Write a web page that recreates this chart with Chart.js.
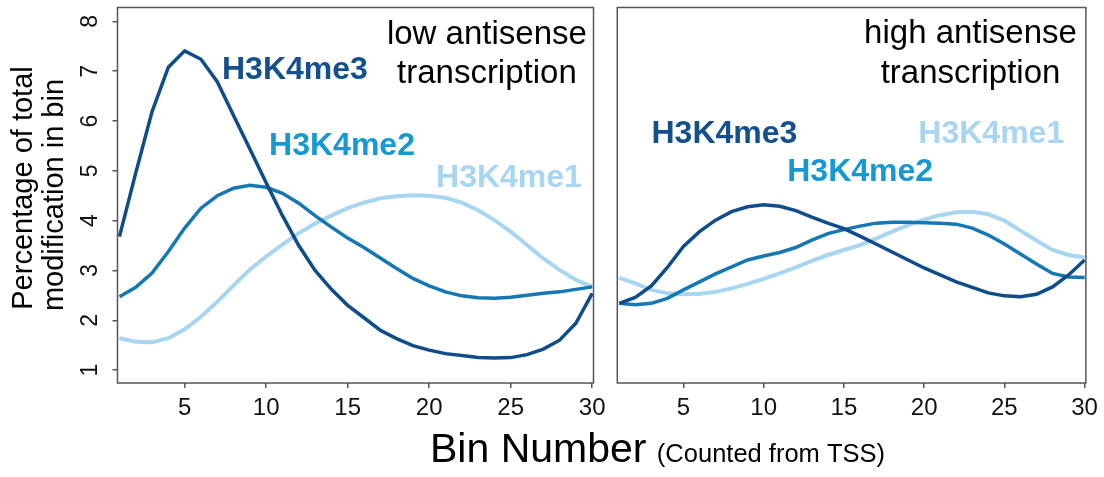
<!DOCTYPE html>
<html>
<head>
<meta charset="utf-8">
<script src="https://cdn.jsdelivr.net/npm/chart.js@4.4.1/dist/chart.umd.min.js"></script>
<style>
  html, body { margin: 0; padding: 0; background: #ffffff; }
  #wrap { position: relative; width: 1104px; height: 477px; overflow: hidden; background: #ffffff; }
  #low { position: absolute; left: 0; top: 0; width: 1104px; height: 477px; }
  #high { position: absolute; left: 604px; top: 0; width: 500px; height: 477px; }
</style>
</head>
<body>
<div id="wrap">
  <canvas id="low" width="1104" height="477"></canvas>
  <canvas id="high" width="500" height="477"></canvas>
</div>
<script>
// Bin positions counted from the TSS
const bins = [1, 2, 3, 4, 5, 6, 7, 8, 9, 10, 11, 12, 13, 14, 15,
              16, 17, 18, 19, 20, 21, 22, 23, 24, 25, 26, 27, 28, 29, 30];
const xTicks = [5, 10, 15, 20, 25, 30];
const yTicks = [1, 2, 3, 4, 5, 6, 7, 8];

// Percentage of total modification per bin, low antisense transcription
const lowMe3 = [3.68, 4.96, 6.19, 7.08, 7.41, 7.24, 6.79, 6.11, 5.44, 4.76,
                4.10, 3.50, 3.00, 2.62, 2.30, 2.05, 1.80, 1.63, 1.49, 1.40,
                1.33, 1.29, 1.25, 1.24, 1.25, 1.31, 1.42, 1.60, 1.94, 2.54];
const lowMe2 = [2.47, 2.66, 2.95, 3.38, 3.85, 4.25, 4.50, 4.65, 4.71, 4.67,
                4.55, 4.35, 4.10, 3.87, 3.65, 3.46, 3.25, 3.04, 2.84, 2.69,
                2.57, 2.49, 2.45, 2.44, 2.46, 2.50, 2.54, 2.57, 2.62, 2.67];
const lowMe1 = [1.64, 1.57, 1.56, 1.64, 1.82, 2.07, 2.37, 2.70, 3.02, 3.28,
                3.52, 3.75, 3.94, 4.10, 4.25, 4.36, 4.45, 4.49, 4.51, 4.50,
                4.46, 4.36, 4.21, 4.01, 3.78, 3.51, 3.24, 3.01, 2.81, 2.67];

// Percentage of total modification per bin, high antisense transcription
const highMe3 = [2.34, 2.46, 2.69, 3.06, 3.48, 3.78, 4.01, 4.18, 4.28, 4.32,
                 4.29, 4.20, 4.07, 3.95, 3.84, 3.69, 3.53, 3.37, 3.21, 3.05,
                 2.91, 2.77, 2.66, 2.55, 2.49, 2.47, 2.52, 2.67, 2.91, 3.21];
const highMe2 = [2.34, 2.31, 2.34, 2.44, 2.61, 2.77, 2.93, 3.07, 3.21, 3.29,
                 3.36, 3.46, 3.61, 3.74, 3.82, 3.89, 3.95, 3.97, 3.97, 3.96,
                 3.95, 3.93, 3.85, 3.71, 3.53, 3.33, 3.13, 2.94, 2.87, 2.86];
const highMe1 = [2.85, 2.74, 2.61, 2.54, 2.52, 2.53, 2.57, 2.64, 2.73, 2.83,
                 2.94, 3.06, 3.19, 3.31, 3.41, 3.51, 3.64, 3.78, 3.91, 4.02,
                 4.11, 4.17, 4.18, 4.13, 4.00, 3.80, 3.60, 3.41, 3.31, 3.26];

const seriesNames = ['H3K4me3', 'H3K4me2', 'H3K4me1'];

const FONT = '"Liberation Sans", Arial, Helvetica, sans-serif';
const AXIS_COLOR = '#555555';
const LINE_COLORS = { H3K4me3: '#0f4c8a', H3K4me2: '#1577b3', H3K4me1: '#a8d5f0' };
const LABEL_COLORS = { H3K4me3: '#13508d', H3K4me2: '#1698d2', H3K4me1: '#a8d5f0' };

const X_MIN = 0.88, X_MAX = 30.08;
const Y_MIN = 0.74, Y_MAX = 8.28;

function points(values) {
  return bins.map((b, i) => ({ x: b, y: values[i] }));
}

function datasets(me3, me2, me1) {
  return [me3, me2, me1].map((vals, i) => ({
    label: seriesNames[i],
    data: points(vals),
    borderColor: LINE_COLORS[seriesNames[i]],
    borderWidth: i === 2 ? 4 : 3.5,
    pointRadius: 0,
    tension: 0,
    fill: false
  }));
}

function xScale() {
  return {
    type: 'linear', min: X_MIN, max: X_MAX,
    afterBuildTicks: s => { s.ticks = xTicks.map(v => ({ value: v })); },
    afterFit: s => { s.height = 94; },
    grid: { drawOnChartArea: false, drawTicks: true, tickLength: 5, color: AXIS_COLOR, lineWidth: 1.5 },
    border: { display: false },
    ticks: { font: { family: FONT, size: 24 }, color: '#111111', padding: 6, maxRotation: 0, minRotation: 0, autoSkip: false }
  };
}

function text(ctx, str, x, y, size, color, weight, align) {
  ctx.font = (weight || 'normal') + ' ' + size + 'px ' + FONT;
  ctx.fillStyle = color;
  ctx.textAlign = align || 'left';
  ctx.textBaseline = 'alphabetic';
  ctx.fillText(str, x, y);
}

// Frame, panel heading and series names for one panel
function panelPlugin(id, heading, labelSpots) {
  return {
    id: id,
    afterDraw(chart) {
      const ctx = chart.ctx, a = chart.chartArea;
      const xs = chart.scales.x, ys = chart.scales.y;
      ctx.save();
      ctx.strokeStyle = AXIS_COLOR;
      ctx.lineWidth = 1.5;
      ctx.strokeRect(a.left, a.top, a.right - a.left, a.bottom - a.top);
      const cx = xs.getPixelForValue(heading.x);
      text(ctx, heading.lines[0], cx, ys.getPixelForValue(heading.y[0]), 33, '#000000', 'normal', 'center');
      text(ctx, heading.lines[1], cx, ys.getPixelForValue(heading.y[1]), 33, '#000000', 'normal', 'center');
      labelSpots.forEach(l => {
        text(ctx, l.name, xs.getPixelForValue(l.x), ys.getPixelForValue(l.y), 32, LABEL_COLORS[l.name], 'bold', 'left');
      });
      ctx.restore();
    }
  };
}

// Rotated y tick labels plus the axis titles
const axisTextPlugin = {
  id: 'axisText',
  afterDraw(chart) {
    const ctx = chart.ctx, ys = chart.scales.y;
    ctx.save();
    ctx.font = '23px ' + FONT;
    ctx.fillStyle = '#111111';
    ctx.textAlign = 'center';
    ctx.textBaseline = 'alphabetic';
    yTicks.forEach(v => {
      ctx.save();
      ctx.translate(97, ys.getPixelForValue(v));
      ctx.rotate(-Math.PI / 2);
      ctx.fillText(String(v), 0, 0);
      ctx.restore();
    });
    ctx.font = '29px ' + FONT;
    ctx.fillStyle = '#000000';
    [['Percentage of total', 31.5, 188], ['modification in bin', 63, 195]].forEach(([s, x, y]) => {
      ctx.save();
      ctx.translate(x, y);
      ctx.rotate(-Math.PI / 2);
      ctx.fillText(s, 0, 0);
      ctx.restore();
    });
    ctx.textAlign = 'left';
    ctx.font = '41px ' + FONT;
    ctx.fillText('Bin Number', 430, 462);
    const w = ctx.measureText('Bin Number ').width;
    ctx.font = '25.5px ' + FONT;
    ctx.fillText('(Counted from TSS)', 429 + w, 462);
    ctx.restore();
  }
};

const lowChart = new Chart(document.getElementById('low'), {
  type: 'line',
  data: { datasets: datasets(lowMe3, lowMe2, lowMe1) },
  options: {
    responsive: false, animation: false, devicePixelRatio: 1,
    layout: { padding: { left: 0, top: 7.5, right: 1104 - 593.5, bottom: 0 } },
    plugins: { legend: { display: false }, tooltip: { enabled: false } },
    scales: {
      x: xScale(),
      y: {
        type: 'linear', min: Y_MIN, max: Y_MAX,
        afterBuildTicks: s => { s.ticks = yTicks.map(v => ({ value: v })); },
        afterFit: s => { s.width = 117.5; },
        grid: { drawOnChartArea: false, drawTicks: true, tickLength: 5, color: AXIS_COLOR, lineWidth: 1.5 },
        border: { display: false },
        ticks: { display: false }
      }
    }
  },
  plugins: [
    panelPlugin('lowPanel',
      { lines: ['low antisense', 'transcription'], x: 23.54, y: [7.55, 6.76] },
      [ { name: 'H3K4me3', x: 7.29, y: 6.84 },
        { name: 'H3K4me2', x: 10.18, y: 5.32 },
        { name: 'H3K4me1', x: 20.42, y: 4.68 } ]),
    axisTextPlugin
  ]
});

const highChart = new Chart(document.getElementById('high'), {
  type: 'line',
  data: { datasets: datasets(highMe3, highMe2, highMe1) },
  options: {
    responsive: false, animation: false, devicePixelRatio: 1,
    layout: { padding: { left: 617.3 - 604, top: 7.5, right: 1104 - 1090, bottom: 0 } },
    plugins: { legend: { display: false }, tooltip: { enabled: false } },
    scales: {
      x: xScale(),
      y: { type: 'linear', min: Y_MIN, max: Y_MAX, display: false }
    }
  },
  plugins: [
    panelPlugin('highPanel',
      { lines: ['high antisense', 'transcription'], x: 22.89, y: [7.56, 6.76] },
      [ { name: 'H3K4me3', x: 3.01, y: 5.55 },
        { name: 'H3K4me2', x: 11.47, y: 4.80 },
        { name: 'H3K4me1', x: 19.64, y: 5.55 } ])
  ]
});
</script>
</body>
</html>
